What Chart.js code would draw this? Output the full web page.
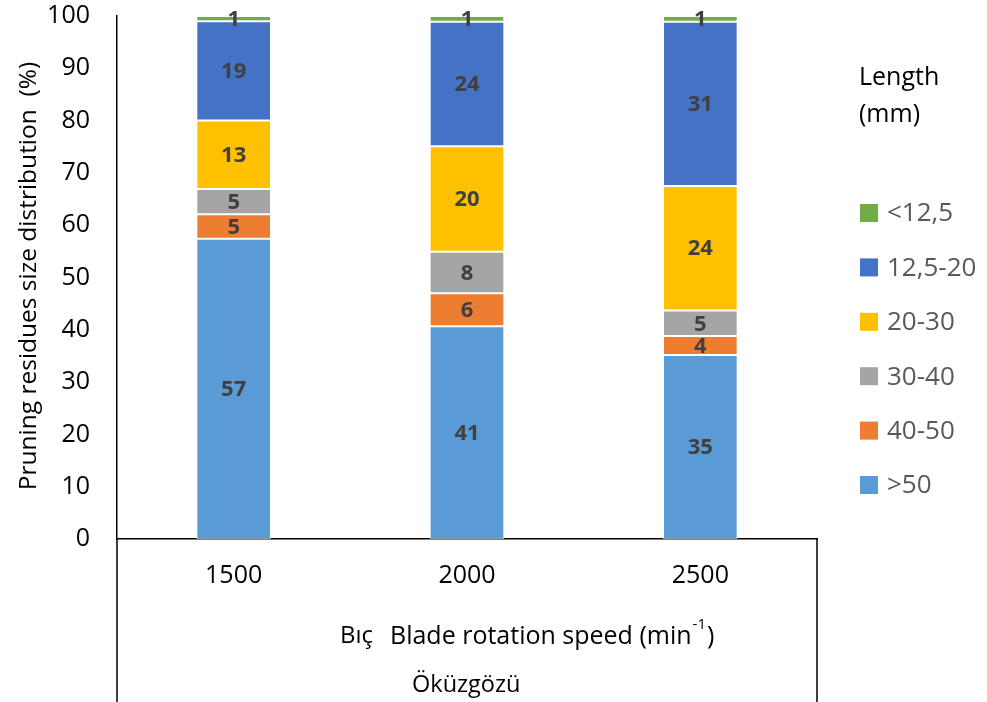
<!DOCTYPE html>
<html>
<head>
<meta charset="utf-8">
<script src="https://cdn.jsdelivr.net/npm/chart.js@4.4.1/dist/chart.umd.min.js"></script>
<style>
  html, body { margin: 0; padding: 0; background: #fff; }
  #wrap { width: 987px; height: 702px; }
</style>
</head>
<body>
<div id="wrap"><canvas id="chart" width="987" height="702"></canvas></div>
<script>
// chart data
const categories = ['1500', '2000', '2500'];
const seriesNames = ['>50', '40-50', '30-40', '20-30', '12,5-20', '<12,5'];
const over50   = [57.4, 40.7, 35.2];
const from40   = [4.7, 6.3, 3.6];
const from30   = [4.8, 7.9, 4.9];
const from20   = [13.1, 20.2, 23.8];
const from12   = [19.0, 23.8, 31.4];
const under12  = [1.0, 1.1, 1.1];
const yTicks   = [0, 10, 20, 30, 40, 50, 60, 70, 80, 90, 100];
const colors   = ['#5B9BD5', '#ED7D31', '#A5A5A5', '#FFC000', '#4472C4', '#70AD47'];

const FONT = "'Open Sans', 'Noto Sans', sans-serif";

const allSeries = [over50, from40, from30, from20, from12, under12];
const datasets = allSeries.map((vals, i) => ({
  label: seriesNames[i],
  data: vals,
  backgroundColor: colors[i],
  borderColor: 'rgba(255,255,255,0.6)',
  borderWidth: 1,
  borderSkipped: false,
  barPercentage: 0.32,
  categoryPercentage: 1.0
}));

// values inside the bar segments
const segmentLabels = {
  id: 'segmentLabels',
  afterDatasetsDraw(chart) {
    const ctx = chart.ctx;
    ctx.save();
    ctx.font = "bold 22px " + FONT;
    ctx.fillStyle = '#404040';
    ctx.textAlign = 'center';
    ctx.textBaseline = 'middle';
    chart.data.datasets.forEach((ds, di) => {
      const meta = chart.getDatasetMeta(di);
      meta.data.forEach((bar, j) => {
        const mid = (bar.y + bar.base) / 2;
        ctx.fillText(String(Math.round(ds.data[j])), bar.x, mid + 1);
      });
    });
    ctx.restore();
  }
};

// axis titles, lower category box and legend
const extras = {
  id: 'extras',
  afterDraw(chart) {
    const ctx = chart.ctx;
    const area = chart.chartArea;
    ctx.save();

    // vertical lines of the category box
    ctx.strokeStyle = '#000';
    ctx.lineWidth = 1.5;
    ctx.beginPath();
    ctx.moveTo(area.left, area.bottom);
    ctx.lineTo(area.left, 702);
    ctx.moveTo(area.right, area.bottom);
    ctx.lineTo(area.right, 702);
    ctx.stroke();

    // y title
    ctx.fillStyle = '#000';
    ctx.font = "24.5px " + FONT;
    ctx.textAlign = 'center';
    ctx.textBaseline = 'middle';
    ctx.translate(29, 276);
    ctx.rotate(-Math.PI / 2);
    ctx.fillText('Pruning residues size distribution  (%)', 0, 0);
    ctx.setTransform(1, 0, 0, 1, 0, 0);

    // second level category, mostly hidden by the axis title
    ctx.font = "24px " + FONT;
    ctx.textAlign = 'left';
    ctx.fillText('Bıçak dönüş hızı', 340, 636);
    ctx.fillStyle = '#fff';
    ctx.fillRect(372, 612, 380, 44);

    // x title with superscript
    ctx.fillStyle = '#000';
    ctx.font = "25px " + FONT;
    const base = 'Blade rotation speed (min';
    let x = 390;
    ctx.fillText(base, x, 637);
    x += ctx.measureText(base).width;
    ctx.font = "15px " + FONT;
    ctx.fillText('-1', x + 1, 625);
    x += ctx.measureText('-1').width + 2;
    ctx.font = "25px " + FONT;
    ctx.fillText(')', x, 637);

    // third level category
    ctx.font = "23.5px " + FONT;
    ctx.fillText('Öküzgözü', 412, 685);

    // legend
    ctx.fillStyle = '#000';
    ctx.font = "25px " + FONT;
    ctx.fillText('Length', 859, 78);
    ctx.fillText('(mm)', 859, 115);
    ctx.font = "26px " + FONT;
    const top = 213, step = 54.4;
    for (let k = 0; k < seriesNames.length; k++) {
      const idx = seriesNames.length - 1 - k;
      const cy = top + k * step;
      ctx.fillStyle = colors[idx];
      ctx.fillRect(860, cy - 9, 18, 18);
      ctx.fillStyle = '#595959';
      ctx.fillText(seriesNames[idx], 887, cy + 1);
    }
    ctx.restore();
  }
};

new Chart(document.getElementById('chart'), {
  type: 'bar',
  data: { labels: categories, datasets: datasets },
  options: {
    responsive: false,
    animation: false,
    layout: { padding: { left: 0, right: 170, top: 16, bottom: 0 } },
    plugins: {
      legend: { display: false },
      tooltip: { enabled: false }
    },
    scales: {
      x: {
        stacked: true,
        grid: { display: false, drawTicks: false },
        border: { display: true, color: '#000', width: 1.5 },
        ticks: { color: '#000', font: { family: FONT, size: 25 }, padding: 22, maxRotation: 0 },
        afterFit(scale) {
          scale.height = 163;
          scale.paddingLeft = 0; scale.paddingRight = 0;
        }
      },
      y: {
        stacked: true,
        min: 0,
        max: 100,
        afterBuildTicks(scale) { scale.ticks = yTicks.map(v => ({ value: v })); },
        grid: { display: false, drawTicks: false },
        border: { display: true, color: '#000', width: 1.5 },
        ticks: { color: '#000', font: { family: FONT, size: 25 }, padding: 27 },
        afterFit(scale) {
          scale.width = 117;
          scale.paddingTop = 0; scale.paddingBottom = 0;
        }
      }
    }
  },
  plugins: [segmentLabels, extras]
});
</script>
</body>
</html>
